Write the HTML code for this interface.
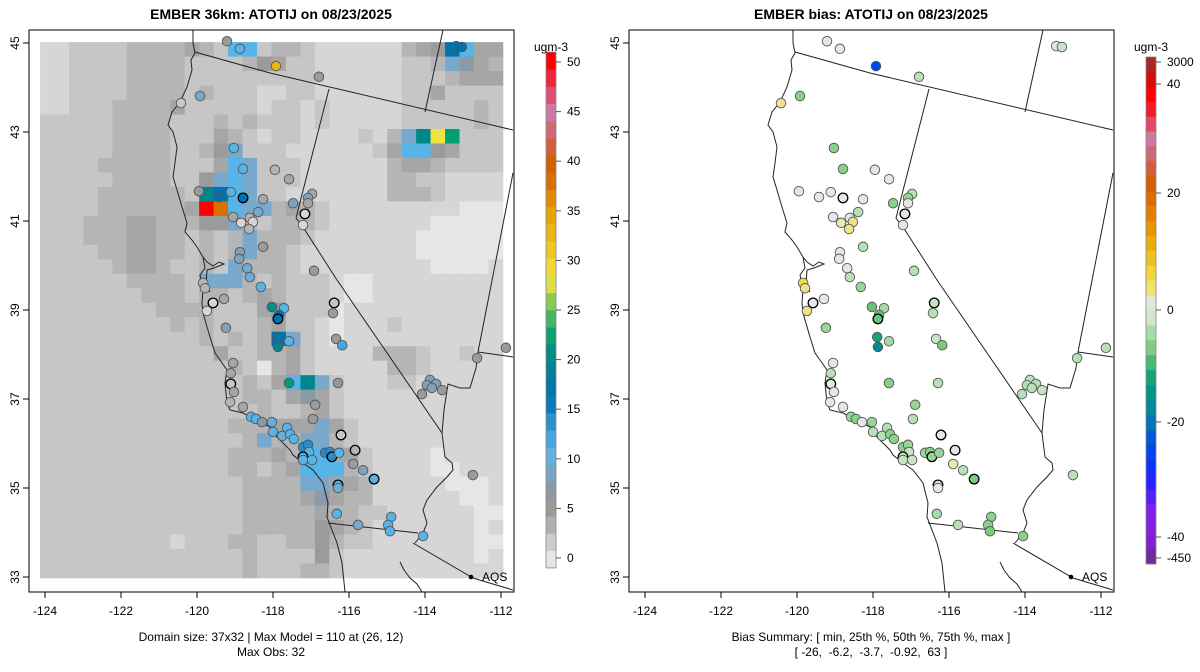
<!DOCTYPE html>
<html><head><meta charset="utf-8"><style>
body{margin:0;background:#fff;}
svg{display:block;font-family:"Liberation Sans",Arial,sans-serif;}
</style></head><body>
<svg id="chart" width="1200" height="672" viewBox="0 0 1200 672"></svg>
<script>
// ---- data ----
const gridRows = [
"bbccccddddedciicddcbbbbbbdefkiee",
"bbccccddddccccdfeccbbbbbbccdhged",
"bbccccddddcccccccccbbbbbbcccdeee",
"bbccccddddcdcccbbccbbbbbbccecccc",
"bbcccddddecccccbccbcbbbbbcccccdc",
"cccccddddcccdcdcccbcbbbbbcccccdc",
"cccccddddcccedcbccbbbbcbdhtyGccc",
"cccccddddccdfhcccbbbbbbceiifeccc",
"ccccdddddccceihcccbbbbbbdeedcccc",
"cccccddddccfhihcccbbbbbbddccbbbb",
"ccccddddddctkihccbbbbbbbdddcbbbb",
"ccccdddddderoihhdedcbbbbbbbbbaaa",
"cccdddeedddffhdcdddcbbbbbbbaaaaa",
"cccdddeeddcdcdhdddcbbbbbbbaaaaaa",
"ccccddeeddcdcdhddcbbbbbbbbaaaaaa",
"cccccdeedccdchdddcbbbbbbbbbaaaab",
"ccccccddddchhhdcdcccbaabbbbbbbbb",
"cccccccdddcddcdedcccbaabbbbbbbbb",
"ccccccccddddcccegcccabbbbbbbbbbb",
"cccccccccdcdcccdeccbabbbcbbbbbbb",
"cccccccccccdcdcdkhcbabbbbbbbbbbb",
"cccccccccccceccddecbbbbdddcbbcbb",
"cccccccccccccdcadecbbbbbddcbbbbb",
"ccccccccccccccdceithcbbbccbbbbbb",
"ccccccccccccccddcegecbbbbbbbbbbb",
"cccccccccccccccdccdecbbbbbbbbbbb",
"cccccccccccccdddeeehecbbbbbbbbbb",
"ccccccccccccccdhddhhdcbbbbbbbbbb",
"cccccccccccccdddediieecbbbbabbbb",
"cccccccccccccddcdeiiidcbbbbaabbb",
"ccccccccccccccddddhheedbbbbbaaab",
"ccccccccccccccddddegeddbbbbbbaab",
"ccccccccccccccdddddeddccbbbbbbaa",
"ccccccccccccccdddddfedcbbbbbbbab",
"cccccccccbcccddccddfdccbbbbbbbaa",
"ccccccccccccccdccccfcbbbbbbbbbab",
"ccccccccccccccdcccddcbbbbbbbbbbb"];
const levelVals = {a:0,b:1,c:2,d:3,e:4,f:5,g:7,h:9,i:11,j:13,k:16,t:20,G:22,y:28,o:38,r:50};

const siteLon = [-119.21,-118.87,-117.92,-116.79,-120.42,-119.92,-113.18,-113.03,-119.03,-118.79,-117.95,-117.58,-119.95,-119.42,-119.11,-118.79,-118.26,-117.47,-116.97,-117.08,-117.08,-117.16,-117.21,-118.39,-119.05,-118.84,-118.61,-118.53,-118.63,-118.87,-118.26,-118.89,-118.68,-118.61,-118.32,-116.92,-119.84,-119.79,-119.29,-119.58,-119.74,-118.03,-117.71,-117.84,-117.87,-116.39,-116.42,-119.24,-117.89,-117.58,-117.87,-116.34,-116.18,-119.05,-119.11,-119.11,-119.03,-119.13,-118.79,-117.58,-116.29,-116.89,-118.58,-118.45,-118.29,-118.03,-118.00,-117.76,-117.63,-117.55,-117.45,-116.95,-116.21,-115.84,-117.21,-117.08,-117.05,-117.21,-117.21,-116.97,-116.63,-116.50,-116.45,-116.26,-115.89,-115.63,-115.34,-116.29,-116.29,-116.32,-115.76,-114.89,-114.97,-114.92,-114.05,-113.87,-113.95,-113.71,-113.82,-114.08,-113.55,-112.63,-111.87,-112.74];
const siteLat = [45.04,44.87,44.48,44.24,43.65,43.81,44.93,44.91,42.64,42.17,42.15,41.94,41.67,41.54,41.65,41.52,41.49,41.40,41.61,41.52,41.40,41.16,40.91,41.20,41.09,40.96,41.07,40.98,40.82,40.30,40.42,40.15,39.94,39.74,39.52,39.88,39.61,39.49,39.25,39.16,38.98,39.07,39.04,38.89,38.80,39.16,38.93,38.60,38.39,38.30,38.17,38.35,38.21,37.81,37.58,37.34,37.16,36.93,36.82,37.36,37.36,36.87,36.60,36.55,36.48,36.48,36.26,36.17,36.35,36.21,36.10,36.55,36.19,35.85,35.92,35.97,35.81,35.70,35.63,35.63,35.79,35.81,35.70,35.79,35.54,35.40,35.20,35.07,35.00,34.42,34.17,34.35,34.17,34.03,33.92,37.43,37.31,37.34,37.25,37.11,37.20,37.92,38.15,35.29];
const siteObs = [5,11,33,5,2,9,16,16,11,11,3,4,5,16,11,16,4,8,4,8,4,1,1,9,4,1,3,1,3,8,5,8,9,10,11,5,3,3,4,1,1,21,11,16,16,2,5,8,17,11,20,5,12,4,4,2,4,3,4,22,7,5,11,11,7,10,11,10,11,11,11,5,2,3,14,14,11,11,11,11,14,14,14,11,5,8,11,11,10,11,9,11,11,11,11,8,8,8,8,5,5,5,5,5];
const siteBias = [0,0,-25,-3,3,-6,0,-2,-6,-6,0,0,0,0,0,0,0,-6,-3,-5,0,0,0,-3,0,2,0,3,3,0,-3,0,0,-3,-5,-3,5,3,0,0,3,-8,-4,-8,-8,-2,-3,-5,-12,-4,-17,-2,-7,0,-3,0,0,0,0,-6,-3,-5,-5,-6,0,-5,-3,-3,-3,-6,-6,-3,0,0,-6,-5,-2,-2,-2,-2,-5,-6,-5,-5,2,-3,-7,0,0,-4,-3,-6,-6,-7,-6,-3,-3,-3,-3,-3,-2,-3,-3,-3];
const darkEdge = [15,21,39,44,45,55,72,73,77,82,86,87];

const xTicks = [-124,-122,-120,-118,-116,-114,-112];
const yTicks = [33,35,37,39,41,43,45];
const obsBarLabels = [0,5,10,15,20,25,30,35,40,45,50];
const biasBarLabels = ["3000","40","20","0","-20","-40","-450"];
const biasBarVals = [60,40,20,0,-20,-40,-47];

// ---- scales ----
const PX0 = 45, PXPERDEG = 38, PY0 = 577, PYPERDEG = 44.5;
function xS(lon, off){ return off + PX0 + (lon + 124) * PXPERDEG; }
function yS(lat){ return PY0 - (lat - 33) * PYPERDEG; }

const obsStops = [[0,"#e6e6e6"],[1,"#d6d6d6"],[2,"#c6c6c6"],[3,"#b5b5b5"],[4,"#a6a6a6"],[5,"#9b9b9b"],[6,"#929292"],[7,"#8a9aa8"],[9,"#78a8cc"],[11,"#56b4e9"],[13,"#3a9ad8"],[16,"#0072b2"],[20,"#00868b"],[22,"#009e73"],[25,"#5fbf5f"],[28,"#f0e442"],[32,"#ebbe20"],[35,"#e69f00"],[38,"#d87000"],[40,"#d55e00"],[42,"#d06050"],[45,"#cc79a7"],[48,"#e8304a"],[50,"#ff0000"]];
const biasStops = [[-47,"#6a2c91"],[-42,"#8020d0"],[-36,"#8a20f0"],[-30,"#2020ff"],[-26,"#0040f0"],[-22,"#0060d0"],[-19,"#0080a8"],[-16,"#008f90"],[-13,"#009e7a"],[-10,"#3cb371"],[-7,"#7ccb7c"],[-5,"#98d598"],[-3,"#b6e0b6"],[-1.5,"#cfe6cf"],[-0.5,"#e6e6e6"],[1,"#e6e6e6"],[2,"#ece6b0"],[4,"#f0e460"],[7,"#f0d030"],[12,"#e8a800"],[18,"#e07000"],[22,"#d55e00"],[26,"#d06060"],[30,"#cc79a7"],[33,"#e84060"],[37,"#ff0000"],[45,"#cc1010"],[60,"#a52a2a"]];
function hex2rgb(h){return [parseInt(h.substr(1,2),16),parseInt(h.substr(3,2),16),parseInt(h.substr(5,2),16)];}
function colorFrom(stops, v){
  if(v<=stops[0][0]) return stops[0][1];
  for(let i=1;i<stops.length;i++){
    if(v<=stops[i][0]){
      const t=(v-stops[i-1][0])/(stops[i][0]-stops[i-1][0]);
      const a=hex2rgb(stops[i-1][1]), b=hex2rgb(stops[i][1]);
      return "rgb("+a.map((c,k)=>Math.round(c+(b[k]-c)*t)).join(",")+")";
    }
  }
  return stops[stops.length-1][1];
}

// ---- basemap geometry (panel pixel coords) ----
const coast = [[193,30],[193,43],[195,53],[191,60],[192,70],[187,87],[180,102],[172,112],[168,125],[173,132],[177,147],[175,163],[173,177],[177,190],[182,207],[187,223],[185,232],[192,240],[197,247],[203,257],[205,268],[200,275],[203,290],[202,303],[203,313],[210,337],[215,353],[220,360],[227,370],[225,383],[227,403],[230,410],[243,413],[257,420],[270,427],[277,437],[283,443],[290,450],[293,455],[303,463],[313,470],[323,483],[328,503],[327,517],[332,530],[337,543],[342,563],[345,592]];
const bay = [[203,257],[207,262],[213,266],[219,262],[224,264],[214,268],[207,270],[206,285],[210,292]];
const baja = [[400,562],[404,570],[410,578],[417,584],[422,592]];
const borders = [
 [[195,52],[270,73],[513,130]],
 [[443,30],[425,112]],
 [[329,89],[296,218],[303,227],[337,280],[442,433]],
 [[442,433],[445,457],[452,463],[453,470],[447,477],[437,487],[427,500],[423,510],[427,523],[423,533],[415,543]],
 [[328,523],[418,533]],
 [[413,543],[473,578],[513,590]],
 [[513,173],[478,352]],
 [[478,352],[513,357]],
 [[478,352],[476,368],[470,388],[460,388],[448,384],[444,410],[442,433]]
];

// ---- draw ----
const NS="http://www.w3.org/2000/svg";
const svg=document.getElementById("chart");
function el(tag, attrs, parent){
  const e=document.createElementNS(NS,tag);
  for(const k in attrs) e.setAttribute(k,attrs[k]);
  (parent||svg).appendChild(e); return e;
}
function txt(s, attrs, parent){ const t=el("text",attrs,parent); t.textContent=s; return t; }

function drawPanel(off, mode){
  const g=el("g",{});
  
  
  const clip=el("clipPath",{id:"clip"+mode},g);
  el("rect",{x:off+29,y:30,width:485,height:562},clip);
  const plot=el("g",{"clip-path":"url(#clip"+mode+")"},g);
  if(mode==="obs"){
    const lonA=-124.13, lonB=-111.95, latT=45.02, latB=32.98;
    const nC=gridRows[0].length, nR=gridRows.length;
    const dLon=(lonB-lonA)/nC, dLat=(latT-latB)/nR;
    for(let r=0;r<nR;r++){
      for(let c=0;c<nC;c++){
        const v=levelVals[gridRows[r][c]];
        const x0=xS(lonA+c*dLon,off), x1=xS(lonA+(c+1)*dLon,off);
        const y0=yS(latT-r*dLat), y1=yS(latT-(r+1)*dLat);
        const cell=el("rect",{x:x0.toFixed(2),y:y0.toFixed(2),width:(x1-x0+0.4).toFixed(2),height:(y1-y0+0.4).toFixed(2),fill:colorFrom(obsStops,v)},plot);
        
        
      }
    }
  }
  const pstr=a=>a.map(p=>(p[0]+off)+","+p[1]).join(" ");
  const cl=el("polyline",{points:pstr(coast),fill:"none",stroke:"#222","stroke-width":1},plot);
  
  
  el("polyline",{points:pstr(bay),fill:"none",stroke:"#222","stroke-width":1},plot);
  el("polyline",{points:pstr(baja),fill:"none",stroke:"#222","stroke-width":1},plot);
  borders.forEach(b=>{
    const bl=el("polyline",{points:pstr(b),fill:"none",stroke:"#222","stroke-width":1},plot);
    
    
  });
  for(let i=0;i<siteLon.length;i++){
    const v = mode==="obs"?siteObs[i]:siteBias[i];
    const dark = darkEdge.indexOf(i)>=0;
    const c=el("circle",{cx:xS(siteLon[i],off).toFixed(1),cy:yS(siteLat[i]).toFixed(1),r:4.8,
      fill: mode==="obs"?colorFrom(obsStops,v):colorFrom(biasStops,v),
      stroke: dark?"#000":"#555","stroke-width":dark?1.3:0.9},plot);
    
    
  }
  el("circle",{cx:off+471,cy:577,r:2.3,fill:"#000"},g);
  const aq=txt("AQS",{x:off+482,y:581,"font-size":12,fill:"#000"},g);
  
  
  const box=el("rect",{x:off+29,y:30,width:485,height:562,fill:"none",stroke:"#000","stroke-width":1},g);
  
  
  xTicks.forEach(t=>{
    const x=xS(t,off);
    el("line",{x1:x,y1:592,x2:x,y2:598,stroke:"#000"},g);
    const l=txt(String(t),{x:x,y:615,"font-size":12,"text-anchor":"middle"},g);
    
    
  });
  yTicks.forEach(t=>{
    const y=yS(t);
    el("line",{x1:off+29,y1:y,x2:off+23,y2:y,stroke:"#000"},g);
    const l=txt(String(t),{x:off+19,y:y,"font-size":12,"text-anchor":"middle",transform:"rotate(-90 "+(off+19)+" "+y+")"},g);
    
    
  });
}
drawPanel(0,"obs");
drawPanel(600,"bias");

const t1=txt("EMBER 36km: ATOTIJ on 08/23/2025",{x:271,y:19,"font-size":14,"font-weight":"bold","text-anchor":"middle"});


const t2=txt("EMBER bias: ATOTIJ on 08/23/2025",{x:871,y:19,"font-size":14,"font-weight":"bold","text-anchor":"middle"});


const c1=txt("Domain size: 37x32 | Max Model = 110 at (26, 12)",{x:271,y:641,"font-size":12,"text-anchor":"middle"});


const c2=txt("Max Obs: 32",{x:271,y:656,"font-size":12,"text-anchor":"middle"});


const c3=txt("Bias Summary: [ min, 25th %, 50th %, 75th %, max ]",{x:871,y:641,"font-size":12,"text-anchor":"middle"});


const c4=txt("[ -26,  -6.2,  -3.7,  -0.92,  63 ]",{x:871,y:656,"font-size":12,"text-anchor":"middle",style:"white-space:pre"});



function obsBarY(v){ return 558 - v*(558-62)/50; }
const cb1=el("g",{});


for(let i=0;i<30;i++){
  const v0=-1+i*(52/30), v1=v0+52/30;
  el("rect",{x:546,y:obsBarY(v1).toFixed(2),width:10,height:(obsBarY(v0)-obsBarY(v1)+0.3).toFixed(2),fill:colorFrom(obsStops,(v0+v1)/2)},cb1);
}
el("rect",{x:546,y:obsBarY(51),width:10,height:obsBarY(-1)-obsBarY(51),fill:"none",stroke:"#888","stroke-width":0.8},cb1);
obsBarLabels.forEach(v=>{
  const y=obsBarY(v);
  el("line",{x1:556,y1:y,x2:561,y2:y,stroke:"#555"},cb1);
  const l=txt(String(v),{x:567,y:y+4,"font-size":12},cb1);
  
  
});
txt("ugm-3",{x:551,y:51,"font-size":12,"text-anchor":"middle"},cb1);

const biasBarYs=[62,84,193,310,422,537,558];
function biasBarY(v){
  for(let i=1;i<biasBarVals.length;i++){
    if(v>=biasBarVals[i]){ const t=(v-biasBarVals[i])/(biasBarVals[i-1]-biasBarVals[i]); return biasBarYs[i]+(biasBarYs[i-1]-biasBarYs[i])*t; }
  }
  return 564;
}
const cb2=el("g",{});


const nSeg=34, barTop=57, barBot=564;
for(let i=0;i<nSeg;i++){
  const ya=barTop+i*(barBot-barTop)/nSeg, yb=ya+(barBot-barTop)/nSeg, ym=(ya+yb)/2;
  let v=biasBarVals[biasBarVals.length-1];
  if(ym<biasBarYs[0]) v=60;
  else {
    for(let k=1;k<biasBarYs.length;k++){ if(ym<=biasBarYs[k]){ const t=(ym-biasBarYs[k-1])/(biasBarYs[k]-biasBarYs[k-1]); v=biasBarVals[k-1]+(biasBarVals[k]-biasBarVals[k-1])*t; break;} }
  }
  el("rect",{x:1146,y:ya.toFixed(2),width:10,height:((barBot-barTop)/nSeg+0.3).toFixed(2),fill:colorFrom(biasStops,v)},cb2);
}
el("rect",{x:1146,y:barTop,width:10,height:barBot-barTop,fill:"none",stroke:"#888","stroke-width":0.8},cb2);
biasBarLabels.forEach((s,i)=>{
  const y=biasBarY(biasBarVals[i]);
  el("line",{x1:1156,y1:y,x2:1161,y2:y,stroke:"#555"},cb2);
  const l=txt(s,{x:1167,y:y+4,"font-size":12},cb2);
  
  
});
txt("ugm-3",{x:1151,y:51,"font-size":12,"text-anchor":"middle"},cb2);
</script>
</body></html>
